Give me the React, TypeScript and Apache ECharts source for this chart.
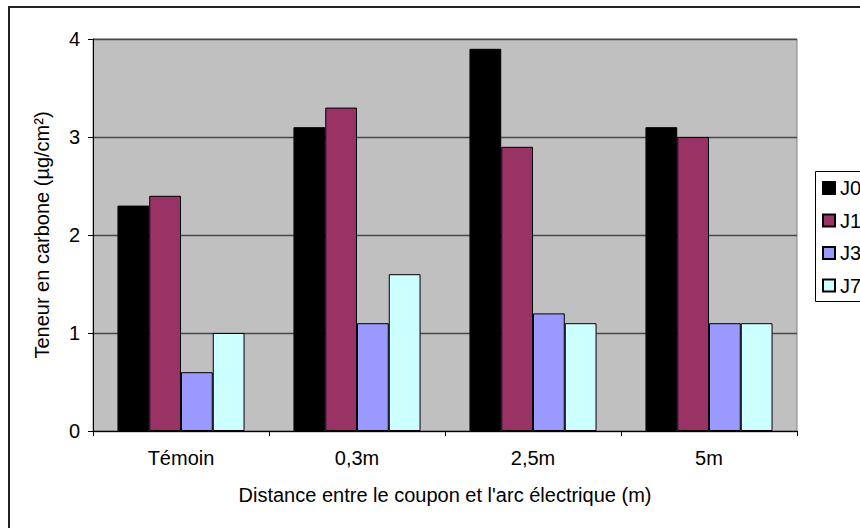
import React, { useEffect, useRef } from "react";
import * as echarts from "echarts";

const categories = ["Témoin", "0,3m", "2,5m", "5m"];
const seriesNames = ["J0", "J1", "J3", "J7"];
const J0 = [2.3, 3.1, 3.9, 3.1];
const J1 = [2.4, 3.3, 2.9, 3.0];
const J3 = [0.6, 1.1, 1.2, 1.1];
const J7 = [1.0, 1.6, 1.1, 1.1];
const colors = ["#000000", "#993366", "#9999FF", "#CCFFFF"];
const yTicks = [0, 1, 2, 3, 4];

const FONT = "'Liberation Sans', Arial, sans-serif";

export default function App() {
  const ref = useRef<HTMLDivElement>(null);
  useEffect(() => {
    if (!ref.current) return;
    const chart = echarts.init(ref.current, null, { renderer: "svg" });
    const values = [J0, J1, J3, J7];
    chart.setOption({
      animation: false,
      backgroundColor: "#ffffff",
      textStyle: { fontFamily: FONT, color: "#000" },
      grid: {
        left: 93,
        top: 39,
        width: 704,
        height: 392,
        show: true,
        backgroundColor: "#C0C0C0",
        borderColor: "#808080",
        borderWidth: 1,
      },
      legend: {
        orient: "vertical",
        left: 822,
        top: 178,
        padding: 0,
        itemWidth: 12,
        itemHeight: 12,
        itemGap: 12.5,
        icon: "rect",
        data: seriesNames,
        textStyle: { fontFamily: FONT, fontSize: 20, color: "#000", lineHeight: 20 },
      },
      graphic: [
        {
          type: "rect",
          shape: { x: 9, y: 7, width: 900, height: 600 },
          style: { fill: "none", stroke: "#222", lineWidth: 2 },
          silent: true,
        },
        {
          type: "rect",
          shape: { x: 815.5, y: 171.5, width: 80, height: 130 },
          style: { fill: "#fff", stroke: "#000", lineWidth: 1 },
          silent: true,
          z: -1,
        },
      ],
      xAxis: {
        type: "category",
        data: categories,
        name: "Distance entre le coupon et l'arc électrique (m)",
        nameLocation: "middle",
        nameGap: 54,
        nameTextStyle: { fontFamily: FONT, fontSize: 20, color: "#000" },
        axisLine: { show: true, lineStyle: { color: "#000", width: 1 } },
        axisTick: { show: true, length: 5, alignWithLabel: false, lineStyle: { color: "#000" } },
        axisLabel: { fontFamily: FONT, fontSize: 20, color: "#000", margin: 17 },
        splitLine: { show: false },
      },
      yAxis: {
        type: "value",
        min: 0,
        max: 4,
        interval: 1,
        name: "Teneur en carbone (µg/cm²)",
        nameLocation: "middle",
        nameGap: 41,
        nameTextStyle: { fontFamily: FONT, fontSize: 20, color: "#000" },
        axisLine: { show: true, lineStyle: { color: "#000", width: 1 } },
        axisTick: { show: true, length: 5, inside: false, lineStyle: { color: "#000" } },
        axisLabel: {
          fontFamily: FONT,
          fontSize: 20,
          color: "#000",
          margin: 13,
          formatter: (v: number) => (yTicks.includes(v) ? String(v) : ""),
        },
        splitLine: { show: true, lineStyle: { color: "#484848", width: 1.3 } },
      },
      series: seriesNames.map((name, i) => ({
        name,
        type: "bar",
        data: values[i],
        barGap: "0%",
        barCategoryGap: "27.8%",
        itemStyle: { color: colors[i], borderColor: "#000", borderWidth: 1 },
      })),
    });
    return () => chart.dispose();
  }, []);
  return (
    <div
      ref={ref}
      style={{ position: "fixed", left: 0, top: 0, width: 860, height: 528 }}
    />
  );
}
